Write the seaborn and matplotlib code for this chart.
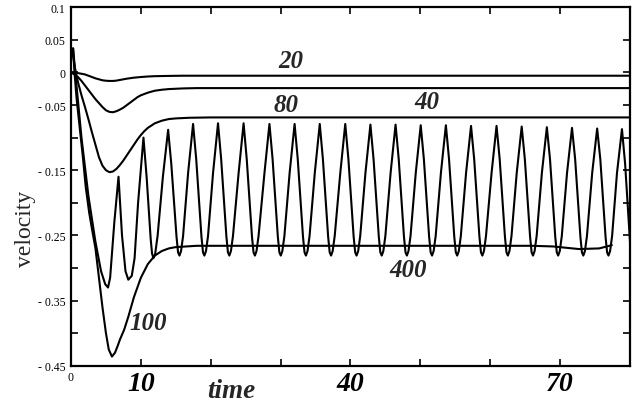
import matplotlib

matplotlib.use("Agg")

import matplotlib.pyplot as plt
import pandas as pd
import seaborn as sns

# curve "20"
t20 = [0.0, 0.5, 1.0, 1.5, 2.0, 2.5, 3.0, 3.5, 4.0, 4.5, 5.0, 5.5, 6.0, 6.5, 7.0, 7.5,
       8.0, 9.0, 10.0, 11.0, 12.0, 14.0, 16.0, 20.0, 80.0]
v20 = [0.0, -0.0005, -0.001, -0.002, -0.003, -0.005, -0.007, -0.009, -0.0105, -0.012,
       -0.0127, -0.013, -0.013, -0.0125, -0.0115, -0.0105, -0.0095, -0.008, -0.007,
       -0.0062, -0.0057, -0.0053, -0.005, -0.005, -0.005]

# curve "40"
t40 = [0.0, 0.5, 1.0, 1.5, 2.0, 2.5, 3.0, 3.5, 4.0, 4.5, 5.0, 5.5, 6.0, 6.5, 7.0, 7.5,
       8.0, 8.5, 9.0, 9.5, 10.0, 11.0, 12.0, 13.0, 14.0, 16.0, 18.0, 80.0]
v40 = [0.0, -0.003, -0.007, -0.013, -0.020, -0.027, -0.034, -0.041, -0.047, -0.053,
       -0.058, -0.0605, -0.061, -0.0595, -0.057, -0.054, -0.050, -0.046, -0.042, -0.038,
       -0.035, -0.031, -0.028, -0.0265, -0.0255, -0.0245, -0.024, -0.024]

# curve "80"
t80 = [0.0, 0.3, 0.6, 1.0, 1.5, 2.0, 2.5, 3.0, 3.5, 4.0, 4.5, 5.0, 5.5, 6.0, 6.5, 7.0,
       7.5, 8.0, 8.5, 9.0, 9.5, 10.0, 10.5, 11.0, 12.0, 13.0, 14.0, 15.0, 17.0, 20.0, 80.0]
v80 = [0.037, 0.025, 0.005, -0.015, -0.035, -0.053, -0.072, -0.092, -0.111, -0.130,
       -0.143, -0.150, -0.153, -0.152, -0.148, -0.142, -0.135, -0.127, -0.119, -0.111,
       -0.103, -0.096, -0.090, -0.085, -0.078, -0.074, -0.0715, -0.0705, -0.0695, -0.069,
       -0.069]

# deep curve that settles near -0.266
t400 = [0.0, 0.3, 0.5, 0.8, 1.2, 1.7, 2.1, 2.6, 3.0, 3.5, 4.0, 4.5, 5.0, 5.4, 5.86, 6.3,
        6.7, 7.0, 7.6, 8.2, 9.0, 10.0, 11.0, 12.0, 13.0, 14.0, 15.0, 16.5, 18.0, 30.0,
        50.0, 66.0, 69.0, 72.7, 75.6, 77.4]
v400 = [0.03, 0.037, 0.0, -0.04, -0.08, -0.13, -0.175, -0.215, -0.24, -0.27, -0.315,
        -0.36, -0.40, -0.425, -0.436, -0.43, -0.419, -0.41, -0.395, -0.375, -0.345,
        -0.315, -0.294, -0.281, -0.274, -0.270, -0.268, -0.267, -0.266, -0.266, -0.266,
        -0.266, -0.267, -0.271, -0.270, -0.265]

# oscillating curve
t100 = [
    0.0, 0.3, 0.7, 1.5, 2.5, 3.5, 4.3, 4.9, 5.3, 5.6, 6.2,
    6.8, 7.3, 7.8, 8.2, 8.7, 9.1, 9.6,
    10.37, 10.82, 11.4, 11.6, 11.8, 12.05, 12.4, 13.15,
    13.9, 14.35, 15.1, 15.32, 15.52, 15.75, 16.04, 16.76,
    17.47, 17.92, 18.67, 18.89, 19.09, 19.32, 19.61, 20.33,
    21.04, 21.49, 22.24, 22.46, 22.66, 22.89, 23.18, 23.99,
    24.7, 25.15, 25.9, 26.12, 26.32, 26.55, 26.84, 27.69,
    28.4, 28.85, 29.6, 29.82, 30.02, 30.25, 30.54, 31.29,
    32.0, 32.45, 33.2, 33.42, 33.62, 33.85, 34.14, 34.89,
    35.6, 36.05, 36.8, 37.02, 37.22, 37.45, 37.74, 38.54,
    39.25, 39.7, 40.45, 40.67, 40.87, 41.1, 41.39, 42.14,
    42.85, 43.3, 44.05, 44.27, 44.47, 44.7, 44.99, 45.74,
    46.45, 46.9, 47.65, 47.87, 48.07, 48.3, 48.59, 49.34,
    50.05, 50.5, 51.25, 51.47, 51.67, 51.9, 52.19, 52.94,
    53.65, 54.1, 54.85, 55.07, 55.27, 55.5, 55.79, 56.54,
    57.25, 57.7, 58.45, 58.67, 58.87, 59.1, 59.39, 60.19,
    60.9, 61.35, 62.1, 62.32, 62.52, 62.75, 63.04, 63.79,
    64.5, 64.95, 65.7, 65.92, 66.12, 66.35, 66.64, 67.39,
    68.1, 68.55, 69.3, 69.52, 69.72, 69.95, 70.24, 70.99,
    71.7, 72.15, 72.9, 73.12, 73.32, 73.55, 73.84, 74.59,
    75.3, 75.75, 76.5, 76.72, 76.92, 77.15, 77.44, 78.14,
    78.85, 79.3, 80.0,
]
v100 = [
    0.03, 0.037, -0.01, -0.10, -0.19, -0.26, -0.305, -0.325, -0.33, -0.315, -0.23,
    -0.16, -0.25, -0.305, -0.318, -0.312, -0.285, -0.20,
    -0.100, -0.16, -0.255, -0.278, -0.285, -0.278, -0.25, -0.16,
    -0.088, -0.14, -0.252, -0.276, -0.281, -0.274, -0.251, -0.154,
    -0.079, -0.133, -0.252, -0.276, -0.281, -0.274, -0.251, -0.154,
    -0.078, -0.133, -0.252, -0.276, -0.281, -0.274, -0.251, -0.154,
    -0.078, -0.133, -0.252, -0.276, -0.281, -0.274, -0.251, -0.154,
    -0.079, -0.133, -0.252, -0.276, -0.281, -0.274, -0.251, -0.154,
    -0.079, -0.133, -0.252, -0.276, -0.281, -0.274, -0.251, -0.154,
    -0.079, -0.133, -0.252, -0.276, -0.281, -0.274, -0.251, -0.154,
    -0.079, -0.133, -0.252, -0.276, -0.281, -0.274, -0.251, -0.154,
    -0.080, -0.133, -0.252, -0.276, -0.281, -0.274, -0.251, -0.154,
    -0.080, -0.133, -0.252, -0.276, -0.281, -0.274, -0.251, -0.154,
    -0.081, -0.133, -0.252, -0.276, -0.281, -0.274, -0.251, -0.154,
    -0.081, -0.133, -0.252, -0.276, -0.281, -0.274, -0.251, -0.154,
    -0.082, -0.133, -0.252, -0.276, -0.281, -0.274, -0.251, -0.154,
    -0.082, -0.133, -0.252, -0.276, -0.281, -0.274, -0.251, -0.154,
    -0.083, -0.133, -0.252, -0.276, -0.281, -0.274, -0.251, -0.154,
    -0.084, -0.133, -0.252, -0.276, -0.281, -0.274, -0.251, -0.154,
    -0.085, -0.133, -0.252, -0.276, -0.281, -0.274, -0.251, -0.154,
    -0.086, -0.133, -0.252, -0.276, -0.281, -0.274, -0.251, -0.154,
    -0.087, -0.14, -0.26,
]

curve_labels = ["20", "40", "80", "100", "400"]
label_x = [31.5, 51.0, 30.8, 11.0, 48.2]
label_y = [0.018, -0.044, -0.049, -0.384, -0.302]

x_ticks = [0, 10, 20, 30, 40, 50, 60, 70, 80]
x_tick_labels = ["0", "10", "", "", "40", "", "", "70", ""]
y_ticks = [0.1, 0.05, 0.0, -0.05, -0.1, -0.15, -0.2, -0.25, -0.3, -0.35, -0.4, -0.45]
y_tick_labels = ["0.1", "0.05", "0", "- 0.05", "", "- 0.15", "", "- 0.25", "",
                 "- 0.35", "", "- 0.45"]

sns.set_theme(style="ticks")
plt.rcParams["font.family"] = ["Liberation Serif", "DejaVu Serif"]

frames = []
for name, t, v in [("20", t20, v20), ("40", t40, v40), ("80", t80, v80),
                   ("400", t400, v400), ("100", t100, v100)]:
    frames.append(pd.DataFrame({"time": t, "velocity": v, "case": name}))
df = pd.concat(frames, ignore_index=True)

fig = plt.figure(figsize=(6.35, 4.06), dpi=100)
ax = fig.add_axes([71 / 635, 1 - 366.7 / 406, (630 - 71) / 635, (366.7 - 8.3) / 406])

sns.lineplot(data=df, x="time", y="velocity", hue="case", units="case",
             palette=["black"] * 5, estimator=None, sort=False, legend=False,
             linewidth=1.5, ax=ax)

ax.set_xlim(0, 80)
ax.set_ylim(-0.45, 0.1)
ax.set_xlabel("")
ax.set_ylabel("")
ax.set_xticks(x_ticks)
ax.set_xticklabels(x_tick_labels)
ax.set_yticks(y_ticks)
ax.set_yticklabels(y_tick_labels, fontsize=8.5)
ax.tick_params(direction="in", top=True, right=True, length=5, width=1.2,
               colors="black")
ax.tick_params(axis="y", pad=4)
ax.tick_params(axis="x", pad=4)
for spine in ax.spines.values():
    spine.set_linewidth(1.6)
    spine.set_color("black")

for tick in ax.xaxis.get_major_ticks():
    lbl = tick.label1
    if lbl.get_text() == "0":
        lbl.set_fontsize(8.5)
    else:
        lbl.set_fontsize(20)
        lbl.set_fontweight("bold")
        lbl.set_fontstyle("italic")

for text, x, y in zip(curve_labels, label_x, label_y):
    ax.text(x, y, text, fontsize=18, fontweight="bold", fontstyle="italic",
            ha="center", va="center")

fig.text(231.7 / 635, 1 - 392 / 406, "time", fontsize=19.5, fontweight="bold",
         fontstyle="italic", ha="center", va="center")
fig.text(25 / 635, 1 - 229 / 406, "velocity", fontsize=17, rotation=90,
         ha="center", va="center")

fig.savefig("out.png", dpi=100)
plt.close(fig)
